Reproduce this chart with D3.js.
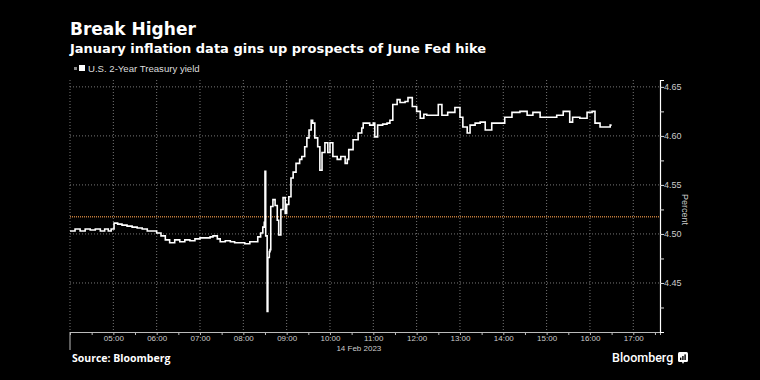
<!DOCTYPE html>
<html>
<head>
<meta charset="utf-8">
<script src="https://cdn.jsdelivr.net/npm/d3@7"></script>
<style>
  body { margin: 0; background: #000; }
  svg text { fill: #fff; }
</style>
</head>
<body>
<script>
// Chart data
var times = ["04:00","04:07","04:14","04:21","04:28","04:35","04:42","04:48","04:53","04:57",
  "05:01","05:06","05:12","05:19","05:26","05:33","05:40","05:47","05:54","06:00",
  "06:06","06:12","06:18","06:25","06:32","06:39","06:46","06:53","07:00","07:07",
  "07:14","07:18","07:24","07:28","07:35","07:42","07:48","07:55","08:02","08:09",
  "08:16","08:20","08:24","08:27","08:29","08:30","08:31","08:33","08:34","08:36",
  "08:37","08:38","08:41","08:44","08:47","08:49","08:52","08:55","08:58","09:00",
  "09:03","09:06","09:09","09:13","09:18","09:21","09:25","09:28","09:31","09:34",
  "09:36","09:39","09:43","09:46","09:49","09:53","09:57","10:00","10:04","10:10",
  "10:15","10:21","10:24","10:26","10:32","10:39","10:44","10:46","10:55","11:00",
  "11:02","11:06","11:13","11:19","11:23","11:27","11:33","11:37","11:44","11:48",
  "11:54","12:00","12:05","12:10","12:14","12:23","12:30","12:35","12:43","12:53",
  "13:00","13:04","13:10","13:14","13:21","13:28","13:35","13:44","13:53","14:02",
  "14:12","14:23","14:33","14:41","14:51","15:00","15:14","15:23","15:32","15:36",
  "15:46","15:56","16:03","16:07","16:14","16:21","16:28","16:30"]
var yields = [4.503,4.505,4.503,4.505,4.504,4.505,4.503,4.505,4.503,4.505,
  4.511,4.510,4.509,4.508,4.507,4.506,4.505,4.503,4.503,4.501,
  4.498,4.494,4.491,4.494,4.492,4.494,4.493,4.495,4.496,4.496,
  4.497,4.498,4.495,4.492,4.493,4.492,4.491,4.491,4.490,4.492,
  4.492,4.497,4.501,4.507,4.512,4.564,4.498,4.421,4.476,4.482,
  4.484,4.528,4.535,4.529,4.514,4.499,4.525,4.537,4.521,4.530,
  4.538,4.557,4.563,4.572,4.576,4.579,4.589,4.598,4.606,4.616,
  4.613,4.598,4.589,4.565,4.583,4.593,4.583,4.593,4.579,4.576,
  4.579,4.572,4.576,4.586,4.596,4.603,4.608,4.613,4.611,4.613,
  4.599,4.611,4.612,4.613,4.616,4.632,4.637,4.634,4.635,4.639,
  4.630,4.625,4.618,4.622,4.621,4.621,4.632,4.621,4.624,4.629,
  4.619,4.609,4.603,4.611,4.613,4.614,4.606,4.613,4.613,4.619,
  4.624,4.625,4.621,4.624,4.619,4.619,4.621,4.625,4.614,4.619,
  4.618,4.624,4.625,4.613,4.609,4.609,4.611,4.611]
var yTicks = [4.45, 4.50, 4.55, 4.60, 4.65]
var xTickHours = ["05:00","06:00","07:00","08:00","09:00","10:00","11:00","12:00","13:00","14:00","15:00","16:00","17:00"]
var refLevel = 4.5175
var day = "2023-02-14"

var parseTime = d3.timeParse("%Y-%m-%d %H:%M")
var data = times.map((t, i) => ({ t: parseTime(day + " " + t), v: yields[i] }))

var W = 760, H = 380
var margin = {top: 80, right: 100, bottom: 48, left: 70},
    width = W - margin.left - margin.right,
    height = H - margin.top - margin.bottom

var svg = d3.select("body").append("svg")
    .attr("width", W)
    .attr("height", H)
    .style("background", "#000")
    .style("font-family", "'Liberation Sans', Arial, sans-serif")

// Titles
svg.append("text").attr("x", 70).attr("y", 35)
    .style("font-family", "'DejaVu Sans', sans-serif")
    .style("font-weight", "bold").style("font-size", "17px")
    .text("Break Higher")
svg.append("text").attr("x", 70).attr("y", 53)
    .style("font-family", "'DejaVu Sans', sans-serif")
    .style("font-weight", "bold").style("font-size", "13px")
    .text("January inflation data gins up prospects of June Fed hike")

// Legend
svg.append("rect").attr("x", 74).attr("y", 67).attr("width", 3).attr("height", 3).attr("fill", "#888")
svg.append("rect").attr("x", 79).attr("y", 65).attr("width", 6).attr("height", 6).attr("fill", "#fff")
svg.append("text").attr("x", 88).attr("y", 72)
    .style("font-size", "9.6px").style("fill", "#ddd")
    .text("U.S. 2-Year Treasury yield")

var g = svg.append("g")
    .attr("transform", "translate(" + margin.left + "," + margin.top + ")")

// Scales
var x = d3.scaleTime()
    .domain([parseTime(day + " 04:00"), parseTime(day + " 17:37")])
    .range([0, width])
var y = d3.scaleLinear().domain([4.40, 4.657]).range([height, 0])

// Grid
var hourDates = xTickHours.map(h => parseTime(day + " " + h))
g.append("g").selectAll("line")
    .data([parseTime(day + " 04:00")].concat(hourDates))
    .join("line")
    .attr("x1", d => x(d)).attr("x2", d => x(d))
    .attr("y1", 0).attr("y2", height)
    .attr("stroke", "#777").attr("stroke-width", 1)
    .attr("stroke-dasharray", "1,2")
g.append("g").selectAll("line")
    .data(yTicks)
    .join("line")
    .attr("x1", 0).attr("x2", width)
    .attr("y1", d => y(d)).attr("y2", d => y(d))
    .attr("stroke", "#777").attr("stroke-width", 1)
    .attr("stroke-dasharray", "1,2")

// Reference level
g.append("line")
    .attr("x1", 0).attr("x2", width)
    .attr("y1", y(refLevel)).attr("y2", y(refLevel))
    .attr("stroke", "#c07a3a").attr("stroke-width", 1.5)
    .attr("stroke-dasharray", "1,1")

// Bottom axis
var xAxis = d3.axisBottom(x)
    .ticks(d3.timeMinute.every(30))
    .tickSize(3)
    .tickFormat(d => d.getMinutes() === 0 && d.getHours() > 4 ? d3.timeFormat("%H:%M")(d) : "")
var gx = g.append("g")
    .attr("transform", "translate(0," + height + ")")
    .call(xAxis)
gx.select(".domain").attr("stroke", "#bbb")
gx.selectAll(".tick line").attr("stroke", "#bbb")
gx.selectAll(".tick text")
    .style("fill", "#ccc")
    .style("font-size", "8px").attr("y", 3).attr("dy", "0.71em")
g.append("line").attr("x1", 0).attr("x2", 0)
    .attr("y1", height).attr("y2", height + 18)
    .attr("stroke", "#bbb")
g.append("text")
    .attr("x", x(parseTime(day + " 10:40"))).attr("y", height + 19)
    .attr("text-anchor", "middle")
    .style("font-size", "8px").style("fill", "#ccc")
    .text("14 Feb 2023")

// Right axis
var yAxis = d3.axisRight(y)
    .tickValues(d3.range(4.425, 4.66, 0.025))
    .tickSize(4)
    .tickFormat(d => Math.round(d * 1000) % 50 === 0 ? d3.format(".2f")(d) : "")
var gy = g.append("g")
    .attr("transform", "translate(" + width + ",0)")
    .call(yAxis)
gy.select(".domain").attr("stroke", "#fff").attr("stroke-width", 1.2)
gy.selectAll(".tick line").attr("stroke", "#ddd")
gy.selectAll(".tick text")
    .style("fill", "#ccc").style("font-size", "9px").attr("x", 4)
g.append("text")
    .attr("transform", "translate(" + (width + 22) + "," + y(4.525) + ") rotate(90)")
    .attr("text-anchor", "middle")
    .style("font-size", "9px").style("fill", "#ccc")
    .text("Percent")

// Line
var line = d3.line()
    .x(d => x(d.t))
    .y(d => y(d.v))
    .curve(d3.curveStepAfter)
g.append("path")
    .datum(data)
    .attr("fill", "none")
    .attr("stroke", "#fff")
    .attr("stroke-width", 1.6)
    .attr("d", line)

// Footer
svg.append("text").attr("x", 72).attr("y", 362)
    .style("font-family", "'Open Sans', sans-serif")
    .style("font-weight", "bold").style("font-size", "10.5px")
    .text("Source: Bloomberg")
svg.append("text").attr("x", 612).attr("y", 362)
    .style("font-family", "Roboto, sans-serif")
    .style("font-weight", "500").style("font-size", "12.5px")
    .text("Bloomberg")
var logo = svg.append("g").attr("transform", "translate(678,352)")
logo.append("rect").attr("width", 10).attr("height", 10).attr("rx", 1.5).attr("fill", "#fff")
logo.append("path").attr("d", "M4,10 L5,12 L6,10 Z").attr("fill", "#fff")
logo.selectAll(".bar").data([3, 5, 7]).join("rect")
    .attr("x", (d, i) => 2 + i * 2.2).attr("y", d => 8 - d * 0.8)
    .attr("width", 1.4).attr("height", d => d * 0.8)
    .attr("fill", "#000")
</script>
</body>
</html>
